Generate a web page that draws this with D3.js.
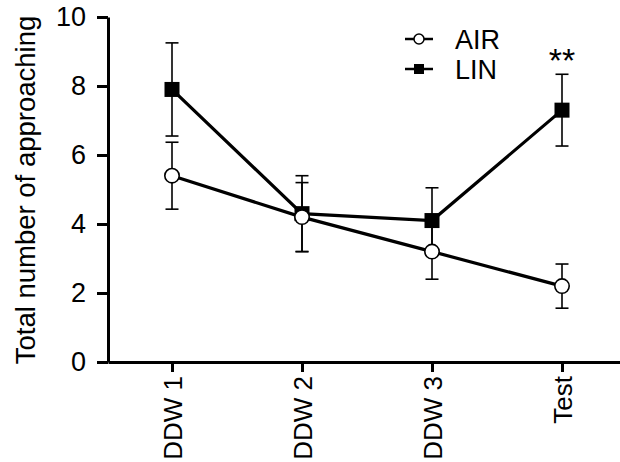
<!DOCTYPE html>
<html>
<head>
<meta charset="utf-8">
<script src="https://cdn.jsdelivr.net/npm/d3@7"></script>
<style>
  html, body { margin: 0; padding: 0; background: #fff; }
  svg { display: block; font-family: "Liberation Sans", Arial, sans-serif; }
</style>
</head>
<body>
<svg id="chart" width="620" height="462"></svg>
<script>
const categories = ["DDW 1", "DDW 2", "DDW 3", "Test"];
const airMean = [5.4, 4.2, 3.2, 2.2];
const airSem  = [0.97, 1.0, 0.8, 0.64];
const linMean = [7.9, 4.3, 4.1, 7.3];
const linSem  = [1.35, 1.1, 0.95, 1.04];
const yTicks = [0, 2, 4, 6, 8, 10];
const seriesNames = ["AIR", "LIN"];
const yLabel = "Total number of approaching";
const sigMark = { category: "Test", text: "**" };

const svg = d3.select("#chart");

const x = d3.scalePoint().domain(categories).range([108, 626]).padding(64 / 130);
const y = d3.scaleLinear().domain([0, 10]).range([362, 17]);

// Axes
const yAxis = svg.append("g").attr("transform", "translate(108,0)")
  .call(d3.axisLeft(y).tickValues(yTicks).tickSize(11).tickSizeOuter(0).tickPadding(11));
yAxis.select(".domain").attr("stroke-width", 3);
yAxis.selectAll(".tick line").attr("stroke-width", 3);
yAxis.selectAll(".tick text").attr("font-size", 27).attr("fill", "#000")
  .attr("font-family", "Liberation Sans, Arial, sans-serif");

const xAxis = svg.append("g").attr("transform", "translate(0,362)")
  .call(d3.axisBottom(x).tickSize(10).tickSizeOuter(0));
xAxis.select(".domain").attr("stroke-width", 3);
xAxis.selectAll(".tick line").attr("stroke-width", 3);
xAxis.selectAll(".tick text")
  .attr("font-size", 26).attr("fill", "#000")
  .attr("font-family", "Liberation Sans, Arial, sans-serif")
  .attr("text-anchor", "end")
  .attr("transform", "rotate(-90)")
  .attr("x", -14).attr("y", 0).attr("dy", "0.35em");

// Y label
svg.append("text")
  .attr("transform", "translate(35," + 190 + ") rotate(-90)")
  .attr("text-anchor", "middle")
  .attr("font-size", 27.5)
  .text(yLabel);

function drawSeries(means, sems) {
  const g = svg.append("g");
  const pts = categories.map((c, i) => ({ c, m: means[i], s: sems[i] }));
  pts.forEach(p => {
    g.append("line").attr("x1", x(p.c)).attr("x2", x(p.c))
      .attr("y1", y(p.m + p.s)).attr("y2", y(p.m - p.s))
      .attr("stroke", "#000").attr("stroke-width", 1.6);
    [p.m + p.s, p.m - p.s].forEach(v => {
      g.append("line").attr("x1", x(p.c) - 6.5).attr("x2", x(p.c) + 6.5)
        .attr("y1", y(v)).attr("y2", y(v))
        .attr("stroke", "#000").attr("stroke-width", 1.6);
    });
  });
  g.append("path")
    .attr("d", d3.line().x(p => x(p.c)).y(p => y(p.m))(pts))
    .attr("fill", "none").attr("stroke", "#000").attr("stroke-width", 3.2);
  return { g, pts };
}

const lin = drawSeries(linMean, linSem);
lin.pts.forEach(p => {
  lin.g.append("rect").attr("x", x(p.c) - 7.5).attr("y", y(p.m) - 7.5)
    .attr("width", 15).attr("height", 15).attr("fill", "#000");
});
const air = drawSeries(airMean, airSem);
air.pts.forEach(p => {
  air.g.append("circle").attr("cx", x(p.c)).attr("cy", y(p.m)).attr("r", 7.2)
    .attr("fill", "#fff").attr("stroke", "#000").attr("stroke-width", 1.6);
});

// significance
svg.append("text").attr("x", x(sigMark.category)).attr("y", 72)
  .attr("text-anchor", "middle").attr("font-size", 34).text(sigMark.text);

// Legend
const leg = svg.append("g");
[0, 1].forEach(i => {
  const cy = 39 + i * 30;
  leg.append("line").attr("x1", 405).attr("x2", 433).attr("y1", cy).attr("y2", cy)
    .attr("stroke", "#000").attr("stroke-width", 2.5);
  if (i === 0) {
    leg.append("circle").attr("cx", 419).attr("cy", cy).attr("r", 5)
      .attr("fill", "#fff").attr("stroke", "#000").attr("stroke-width", 1.5);
  } else {
    leg.append("rect").attr("x", 414).attr("y", cy - 5).attr("width", 10).attr("height", 10)
      .attr("fill", "#000");
  }
  leg.append("text").attr("x", 455).attr("y", cy + 10).attr("font-size", 27)
    .text(seriesNames[i]);
});
</script>
</body>
</html>
